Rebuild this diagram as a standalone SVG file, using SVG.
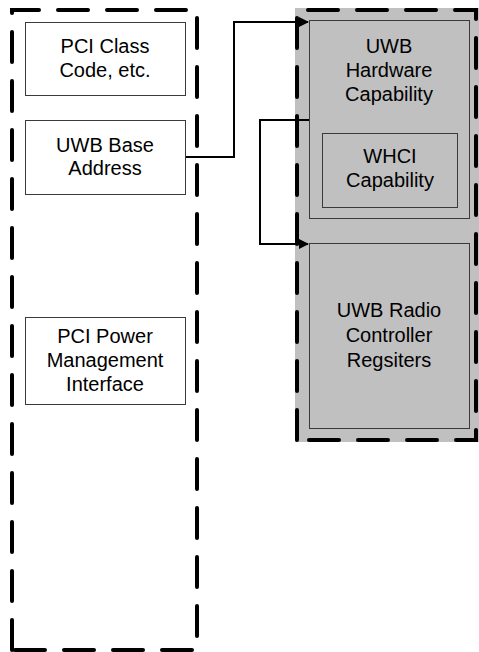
<svg xmlns="http://www.w3.org/2000/svg" width="479" height="652" viewBox="0 0 479 652">
<style>
.dash{fill:none;stroke:#000;stroke-width:4;stroke-dasharray:30 19;stroke-linecap:round}
.box{stroke:#3a3a3a;stroke-width:1}
.wbox{fill:#fff}
.gbox{fill:#c0c0c0}
text{font-family:"Liberation Sans",Arial,sans-serif;font-size:20px;fill:#000;text-anchor:middle}
.conn{fill:none;stroke:#000;stroke-width:2}
</style>
<defs>
<marker id="arr" markerWidth="10" markerHeight="10" refX="9" refY="5" orient="auto" markerUnits="userSpaceOnUse">
<path d="M0,0 L10,5 L0,10 Z" fill="#000"/>
</marker>
</defs>
<rect x="0" y="0" width="479" height="652" fill="#fff"/>
<g id="host-region">
<path class="dash" d="M12,650 V10 H197 V650 Z"/>
</g>
<g id="device-region">
<rect x="295" y="8" width="184" height="434" fill="#c0c0c0"/>
<path class="dash" d="M297,440 V10 H476 V440 Z"/>
</g>
<g id="pci-class">
<rect class="box wbox" x="25.5" y="22.5" width="160" height="73"/>
<text x="105" y="53">PCI Class</text>
<text x="105" y="77">Code, etc.</text>
</g>
<g id="uwb-base">
<rect class="box wbox" x="25.5" y="120.5" width="160" height="74"/>
<text x="105" y="152">UWB Base</text>
<text x="105" y="175">Address</text>
</g>
<g id="pci-power">
<rect class="box wbox" x="25.5" y="317.5" width="160" height="87"/>
<text x="105" y="343">PCI Power</text>
<text x="105" y="367">Management</text>
<text x="105" y="391">Interface</text>
</g>
<g id="uwb-hw-cap">
<rect class="box gbox" x="309.5" y="20.5" width="160" height="198"/>
<text x="389" y="53">UWB</text>
<text x="389" y="77">Hardware</text>
<text x="389" y="101">Capability</text>
</g>
<g id="whci-cap">
<rect class="box gbox" x="322.5" y="133.5" width="135" height="74"/>
<text x="390" y="163">WHCI</text>
<text x="390" y="187">Capability</text>
</g>
<g id="uwb-radio">
<rect class="box gbox" x="309.5" y="243.5" width="160" height="185"/>
<text x="389" y="317">UWB Radio</text>
<text x="389" y="342">Controller</text>
<text x="389" y="367">Regsiters</text>
</g>
<g id="connectors">
<path class="conn" d="M186,157 H234 V22 H308" marker-end="url(#arr)"/>
<path class="conn" d="M309,120 H260 V244 H308" marker-end="url(#arr)"/>
</g>
</svg>
